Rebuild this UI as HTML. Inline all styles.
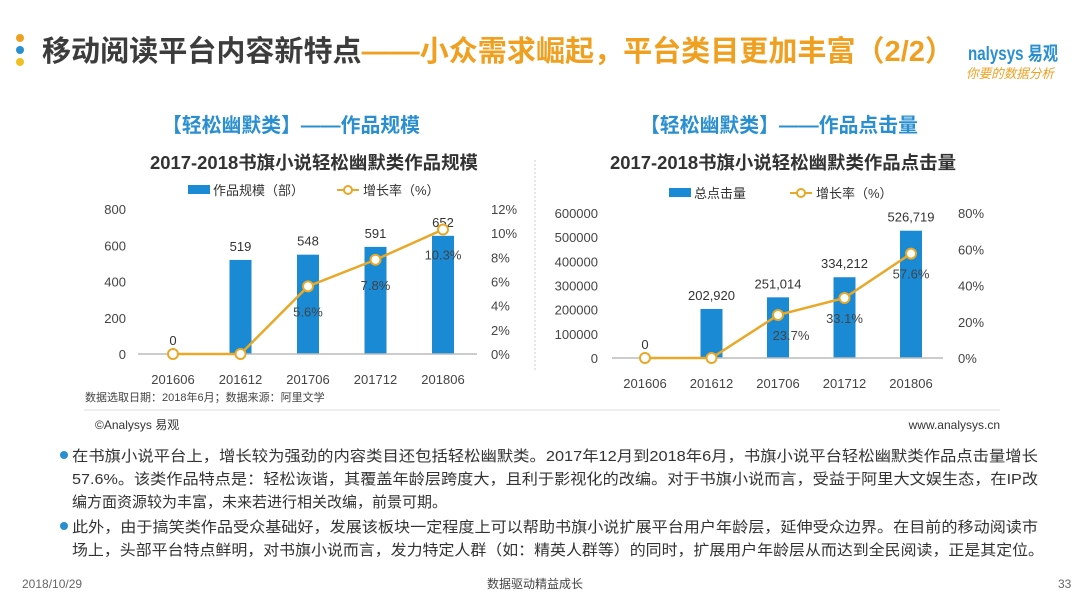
<!DOCTYPE html>
<html><head><meta charset="utf-8"><style>
html,body{margin:0;padding:0;background:#fff;}
svg{display:block;font-family:"Liberation Sans","Noto Sans CJK SC",sans-serif;}
</style></head><body>
<svg id="s" width="1080" height="607" viewBox="0 0 1080 607" xmlns="http://www.w3.org/2000/svg">
<g>
<circle cx="20" cy="38" r="4" fill="#f0a020"/><circle cx="20" cy="50" r="4" fill="#2a8fd0"/><circle cx="20" cy="62" r="4" fill="#f0c020"/>
<text x="42" y="61" font-size="29" font-weight="bold" textLength="912" lengthAdjust="spacingAndGlyphs"><tspan fill="#3c3c3c">移动阅读平台内容新特点</tspan><tspan fill="#f0a020">——小众需求崛起，平台类目更加丰富（2/2）</tspan></text>
<text x="968" y="60" font-size="19" fill="#2a8fd0" font-weight="bold" textLength="90" lengthAdjust="spacingAndGlyphs">nalysys 易观</text>
<text x="966" y="78" font-size="13" fill="#f0a020" font-style="italic" textLength="88" lengthAdjust="spacingAndGlyphs">你要的数据分析</text>
</g>
<text x="162" y="132" font-size="20" font-weight="bold" fill="#2a8fd0" textLength="258" lengthAdjust="spacingAndGlyphs">【轻松幽默类】——作品规模</text>
<text x="640" y="132" font-size="20" font-weight="bold" fill="#2a8fd0" textLength="278" lengthAdjust="spacingAndGlyphs">【轻松幽默类】——作品点击量</text>
<line x1="535" y1="160" x2="535" y2="372" stroke="#ccc" stroke-dasharray="2,2"/>
<g id="c1"></g>
<g id="c2"></g>
<text x="85" y="401" font-size="11" fill="#444">数据选取日期：2018年6月；数据来源：阿里文学</text>
<line x1="84" y1="410" x2="1000" y2="410" stroke="#ddd"/>
<text x="95" y="429" font-size="12" fill="#333">©Analysys 易观</text>
<text x="1000" y="429" font-size="12" fill="#333" text-anchor="end">www.analysys.cn</text>
<g font-size="15" fill="#333">
<circle cx="64" cy="455" r="4" fill="#2a8fd0"/>
<text x="72" y="461" textLength="966" lengthAdjust="spacingAndGlyphs">在书旗小说平台上，增长较为强劲的内容类目还包括轻松幽默类。2017年12月到2018年6月，书旗小说平台轻松幽默类作品点击量增长</text>
<text x="72" y="484" textLength="966" lengthAdjust="spacingAndGlyphs">57.6%。该类作品特点是：轻松诙谐，其覆盖年龄层跨度大，且利于影视化的改编。对于书旗小说而言，受益于阿里大文娱生态，在IP改</text>
<text x="72" y="507">编方面资源较为丰富，未来若进行相关改编，前景可期。</text>
<circle cx="64" cy="526" r="4" fill="#2a8fd0"/>
<text x="72" y="532" textLength="966" lengthAdjust="spacingAndGlyphs">此外，由于搞笑类作品受众基础好，发展该板块一定程度上可以帮助书旗小说扩展平台用户年龄层，延伸受众边界。在目前的移动阅读市</text>
<text x="72" y="555" textLength="972" lengthAdjust="spacingAndGlyphs">场上，头部平台特点鲜明，对书旗小说而言，发力特定人群（如：精英人群等）的同时，扩展用户年龄层从而达到全民阅读，正是其定位。</text>
</g>
<text x="22" y="588" font-size="12" fill="#666">2018/10/29</text>
<text x="535" y="588" font-size="12" fill="#444" text-anchor="middle">数据驱动精益成长</text>
<text x="1058" y="588" font-size="12" fill="#666">33</text>
</svg>
<script>
const categories=["201606","201612","201706","201712","201806"];
const worksCount=[0,519,548,591,652];
const worksGrowth=[0,0,5.6,7.8,10.3];
const clicks=[0,202920,251014,334212,526719];
const clicksGrowth=[0,0,23.7,33.1,57.6];
const leftTicks=[0,200,400,600,800];
const leftPctTicks=[0,2,4,6,8,10,12];
const rightTicks=[0,100000,200000,300000,400000,500000,600000];
const rightPctTicks=[0,20,40,60,80];
const clickLabels=["0","202,920","251,014","334,212","526,719"];
const NS="http://www.w3.org/2000/svg";
function mk(p,t,a,txt){const e=document.createElementNS(NS,t);for(const k in a)e.setAttribute(k,a[k]);if(txt!==undefined)e.textContent=txt;p.appendChild(e);return e;}
function chart(g,cfg){
  const yL=v=>cfg.base-(v/cfg.max)*(cfg.base-cfg.top);
  const yR=v=>cfg.base-(v/cfg.pmax)*(cfg.base-cfg.top);
  const xC=i=>cfg.x0+i*cfg.dx;
  const t=mk(g,'text',{x:cfg.tx,y:169,'font-size':18,'font-weight':'bold',fill:'#333',textLength:cfg.tw,lengthAdjust:'spacingAndGlyphs'},cfg.title);
  
  
  const lr=mk(g,'rect',{x:cfg.lg1,y:cfg.ly-5,width:22,height:9,fill:'#1a8ad4'});
  
  
  mk(g,'text',{x:cfg.lg1+25,y:cfg.ly+5,'font-size':13,fill:'#333'},cfg.barName);
  mk(g,'line',{x1:cfg.lg2,y1:cfg.ly,x2:cfg.lg2+22,y2:cfg.ly,stroke:'#e8a828','stroke-width':2});
  const lc=mk(g,'circle',{cx:cfg.lg2+11,cy:cfg.ly,r:4,fill:'#fff',stroke:'#e8a828','stroke-width':2});
  
  
  mk(g,'text',{x:cfg.lg2+26,y:cfg.ly+5,'font-size':13,fill:'#333'},'增长率（%）');
  cfg.ticks.forEach(v=>{const e=mk(g,'text',{x:cfg.lx,y:yL(v)+5,'font-size':13,fill:'#444','text-anchor':'end'},String(v));
    });
  cfg.pticks.forEach(v=>{const e=mk(g,'text',{x:cfg.rx,y:yR(v)+5,'font-size':13,fill:'#444'},v+'%');
    });
  cfg.vals.forEach((v,i)=>{
    if(v>0){const b=mk(g,'rect',{x:xC(i)-11,y:yL(v),width:22,height:cfg.base-yL(v),fill:'#1a8ad4'});
      }
    mk(g,'text',{x:xC(i),y:yL(v)-9,'font-size':13,fill:'#333','text-anchor':'middle'},cfg.labels[i]);
    const c=mk(g,'text',{x:xC(i),y:cfg.base+30,'font-size':13,fill:'#444','text-anchor':'middle'},categories[i]);
    
  });
  mk(g,'line',{x1:cfg.ax0,y1:cfg.base,x2:cfg.ax1,y2:cfg.base,stroke:'#bbb','stroke-width':1.5});
  const pl=mk(g,'polyline',{points:cfg.growth.map((v,i)=>xC(i)+','+yR(v)).join(' '),fill:'none',stroke:'#e8a828','stroke-width':2.5});
  
  cfg.growth.forEach((v,i)=>{
    const p=mk(g,'circle',{cx:xC(i),cy:yR(v),r:5,fill:'#fff',stroke:'#e8a828','stroke-width':2});
    
    if(v>0){mk(g,'text',{x:xC(i)+cfg.gdx[i],y:yR(v)+cfg.gdy,'font-size':13,fill:'#444','text-anchor':'middle'},v+'%');}
  });
}
chart(document.getElementById('c1'),{title:'2017-2018书旗小说轻松幽默类作品规模',tx:150,tw:328,base:354,top:209,max:800,pmax:12,x0:173,dx:67.5,
 ticks:leftTicks,pticks:leftPctTicks,vals:worksCount,labels:worksCount.map(String),growth:worksGrowth,lx:126,rx:491,ax0:138,ax1:477,
 lg1:188,lg2:337,ly:190,barName:'作品规模（部）',gdx:[0,0,0,0,0],gdy:30});
chart(document.getElementById('c2'),{title:'2017-2018书旗小说轻松幽默类作品点击量',tx:610,tw:346,base:358,top:213,max:600000,pmax:80,x0:645,dx:66.5,
 ticks:rightTicks,pticks:rightPctTicks,vals:clicks,labels:clickLabels,growth:clicksGrowth,lx:598,rx:958,ax0:612,ax1:943,
 lg1:669,lg2:790,ly:193,barName:'总点击量',gdx:[0,0,13,0,0],gdy:25});
</script>
</body></html>
